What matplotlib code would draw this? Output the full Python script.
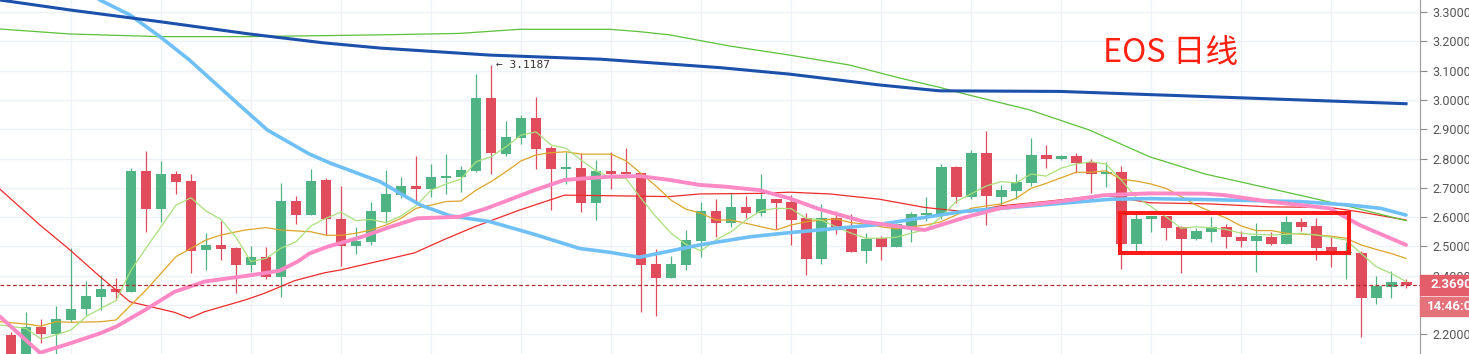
import matplotlib
matplotlib.use('Agg')
import matplotlib.pyplot as plt
import matplotlib.transforms as mtransforms
from matplotlib.patches import Rectangle
import numpy as np

# daily candles, EOS
opens = [2.198, 2.120, 2.225, 2.202, 2.249, 2.285, 2.328, 2.355, 2.345, 2.757,
         2.628, 2.747, 2.723, 2.489, 2.505, 2.495, 2.437, 2.464, 2.397, 2.655,
         2.608, 2.727, 2.594, 2.501, 2.515, 2.618, 2.675, 2.706, 2.697, 2.734,
         2.738, 2.757, 3.006, 2.816, 2.871, 2.938, 2.836, 2.765, 2.768, 2.649,
         2.756, 2.754, 2.749, 2.440, 2.393, 2.437, 2.519, 2.621, 2.581, 2.634,
         2.615, 2.662, 2.652, 2.596, 2.458, 2.596, 2.559, 2.485, 2.530, 2.498,
         2.566, 2.608, 2.612, 2.771, 2.670, 2.819, 2.670, 2.690, 2.717, 2.812,
         2.797, 2.809, 2.787, 2.748, 2.754, 2.509, 2.593, 2.604, 2.566, 2.526,
         2.550, 2.566, 2.532, 2.519, 2.532, 2.509, 2.583, 2.570, 2.498, 2.477,
         2.479, 2.325, 2.362, 2.378]
highs = [2.208, 2.276, 2.252, 2.297, 2.493, 2.382, 2.401, 2.391, 2.769, 2.826,
         2.791, 2.758, 2.746, 2.547, 2.588, 2.497, 2.501, 2.499, 2.716, 2.672,
         2.763, 2.734, 2.706, 2.567, 2.652, 2.761, 2.737, 2.809, 2.781, 2.816,
         2.774, 3.088, 3.1187, 2.929, 2.948, 3.010, 2.844, 2.823, 2.818, 2.795,
         2.823, 2.837, 2.750, 2.492, 2.467, 2.556, 2.650, 2.662, 2.681, 2.672,
         2.748, 2.662, 2.674, 2.615, 2.645, 2.621, 2.610, 2.547, 2.535, 2.581,
         2.617, 2.670, 2.781, 2.775, 2.829, 2.894, 2.709, 2.747, 2.871, 2.846,
         2.812, 2.818, 2.799, 2.789, 2.774, 2.621, 2.604, 2.604, 2.570, 2.564,
         2.601, 2.575, 2.553, 2.579, 2.550, 2.604, 2.596, 2.596, 2.533, 2.516,
         2.485, 2.399, 2.416, 2.388]
lows = [2.100, 2.100, 2.169, 2.120, 2.243, 2.266, 2.283, 2.317, 2.345, 2.550,
        2.584, 2.679, 2.410, 2.419, 2.453, 2.340, 2.414, 2.388, 2.328, 2.576,
        2.608, 2.538, 2.433, 2.474, 2.504, 2.581, 2.664, 2.647, 2.670, 2.680,
        2.686, 2.755, 2.747, 2.810, 2.851, 2.765, 2.624, 2.712, 2.618, 2.590,
        2.697, 2.747, 2.275, 2.264, 2.393, 2.419, 2.465, 2.533, 2.567, 2.596,
        2.605, 2.558, 2.504, 2.402, 2.439, 2.542, 2.482, 2.445, 2.454, 2.498,
        2.516, 2.588, 2.594, 2.647, 2.662, 2.573, 2.641, 2.662, 2.706, 2.769,
        2.795, 2.752, 2.683, 2.704, 2.424, 2.485, 2.550, 2.522, 2.408, 2.522,
        2.516, 2.493, 2.499, 2.414, 2.504, 2.509, 2.554, 2.454, 2.431, 2.389,
        2.192, 2.302, 2.325, 2.357]
closes = [2.120, 2.225, 2.202, 2.252, 2.286, 2.331, 2.355, 2.344, 2.757, 2.628,
          2.747, 2.721, 2.485, 2.504, 2.492, 2.437, 2.464, 2.397, 2.655, 2.608,
          2.723, 2.594, 2.501, 2.518, 2.621, 2.679, 2.706, 2.697, 2.737, 2.741,
          2.761, 3.006, 2.820, 2.873, 2.938, 2.833, 2.765, 2.772, 2.649, 2.756,
          2.748, 2.748, 2.437, 2.393, 2.440, 2.522, 2.621, 2.581, 2.634, 2.615,
          2.662, 2.649, 2.590, 2.458, 2.596, 2.556, 2.482, 2.527, 2.498, 2.576,
          2.611, 2.615, 2.771, 2.670, 2.819, 2.672, 2.692, 2.721, 2.812, 2.797,
          2.809, 2.786, 2.748, 2.754, 2.509, 2.594, 2.604, 2.564, 2.526, 2.553,
          2.566, 2.533, 2.519, 2.535, 2.509, 2.583, 2.566, 2.496, 2.481, 2.482,
          2.325, 2.365, 2.378, 2.369]

# moving averages (x = candle index)
ma5_x = [-0.73] + list(range(1, 94))
ma5 = [2.232, 2.220, 2.184, 2.198, 2.215, 2.260, 2.289, 2.315, 2.419, 2.494,
       2.567, 2.641, 2.666, 2.621, 2.592, 2.531, 2.448, 2.459, 2.494, 2.516,
       2.570, 2.596, 2.617, 2.588, 2.592, 2.581, 2.604, 2.639, 2.692, 2.713,
       2.730, 2.789, 2.806, 2.840, 2.880, 2.891, 2.846, 2.835, 2.795, 2.758,
       2.734, 2.732, 2.664, 2.601, 2.545, 2.507, 2.485, 2.522, 2.550, 2.590,
       2.622, 2.630, 2.629, 2.596, 2.590, 2.567, 2.545, 2.528, 2.528, 2.531,
       2.545, 2.558, 2.601, 2.653, 2.679, 2.706, 2.721, 2.717, 2.747, 2.740,
       2.767, 2.781, 2.789, 2.781, 2.727, 2.668, 2.636, 2.601, 2.562, 2.567,
       2.564, 2.558, 2.545, 2.541, 2.539, 2.541, 2.545, 2.539, 2.531, 2.522,
       2.476, 2.431, 2.408, 2.380]

ma10_x = [-0.73, 1, 2, 3, 4, 6, 7, 9, 11, 13, 14, 15.6, 17, 18, 20] + list(range(21, 94))
ma10 = [2.243, 2.235, 2.228, 2.243, 2.241, 2.243, 2.249, 2.351, 2.465, 2.522,
        2.539, 2.556, 2.564, 2.556, 2.550,
        2.538, 2.538, 2.545, 2.556, 2.573, 2.596, 2.630, 2.641, 2.653, 2.655,
        2.692, 2.721, 2.755, 2.792, 2.812, 2.820, 2.823, 2.815, 2.815, 2.815,
        2.792, 2.749, 2.706, 2.658, 2.627, 2.613, 2.590, 2.590, 2.579, 2.567,
        2.556, 2.573, 2.584, 2.590, 2.594, 2.581, 2.576, 2.567, 2.560, 2.567,
        2.573, 2.584, 2.607, 2.630, 2.638, 2.645, 2.664, 2.698, 2.715, 2.734,
        2.753, 2.753, 2.758, 2.729, 2.723, 2.713, 2.698, 2.670, 2.641, 2.618,
        2.597, 2.570, 2.554, 2.554, 2.545, 2.542, 2.539, 2.535, 2.528, 2.505,
        2.490, 2.476, 2.459]

ma_red_x = [-0.73, 1.93, 3.93, 5.93, 7.93, 10.9, 11.9, 12.9, 15.6, 16.9, 18.9,
            20.9, 21.9, 24.9, 26.9, 28.9, 30.9, 33.9, 36.9, 39.9, 43.9, 45.9,
            49.9, 51.9, 54.6, 57.9, 60.9, 63.9, 65.9, 68.9, 71.9, 72.9, 75.9,
            79.9, 83.9, 87.9, 89.9, 93]
ma_red = [2.695, 2.573, 2.488, 2.397, 2.311, 2.275, 2.255, 2.277, 2.317, 2.340,
          2.383, 2.410, 2.419, 2.454, 2.478, 2.524, 2.567, 2.624, 2.675, 2.673,
          2.670, 2.679, 2.681, 2.685, 2.679, 2.661, 2.633, 2.617, 2.638, 2.653,
          2.670, 2.675, 2.649, 2.645, 2.635, 2.633, 2.618, 2.590]

ma_pink_x = [-0.73, 1.93, 3.93, 5.93, 7.0, 8.93, 10.9, 12.9, 15.9, 17.9, 19.1,
             19.9, 21.1, 23.3, 25.3, 27.1, 29.9, 31.6, 32.9, 34.9, 36.9, 39.9,
             41.9, 43.9, 45.9, 47.6, 49.9, 51.9, 53.9, 56.9, 60.9, 63.6, 65.9,
             69.9, 72.9, 75.9, 79.6, 80.9, 83.9, 87.9, 89.9, 93]
ma_pink = [2.260, 2.137, 2.169, 2.203, 2.226, 2.283, 2.345, 2.380, 2.401, 2.417,
           2.448, 2.476, 2.499, 2.531, 2.567, 2.596, 2.601, 2.628, 2.653, 2.692,
           2.727, 2.738, 2.740, 2.727, 2.710, 2.704, 2.692, 2.664, 2.627, 2.584,
           2.556, 2.599, 2.630, 2.653, 2.675, 2.681, 2.680, 2.675, 2.653, 2.630,
           2.573, 2.505]

ma_lblue_x = [5.0, 5.93, 7.93, 9.93, 11.9, 15.3, 17.1, 19.9, 21.3, 24.6, 27.3,
              29.3, 31.9, 34.9, 37.9, 39.9, 41.9, 45.9, 49.3, 51.9, 57.9, 61.9,
              63.6, 68.6, 73.3, 75.9, 79.6, 85.9, 89.3, 91.3, 93]
ma_lblue = [3.370, 3.341, 3.290, 3.216, 3.136, 2.979, 2.897, 2.815, 2.784, 2.721,
            2.641, 2.604, 2.585, 2.541, 2.493, 2.480, 2.463, 2.505, 2.533, 2.547,
            2.575, 2.607, 2.620, 2.641, 2.661, 2.663, 2.660, 2.653, 2.641, 2.630,
            2.607]

ma_green_x = [-0.73, 3.93, 9.93, 15.9, 24.6, 29.9, 33.9, 39.9, 41.9, 43.9, 47.9,
              51.9, 55.9, 59.3, 61.9, 63.6, 67.9, 71.9, 75.9, 79.6, 81.9, 85.9,
              89.3, 93]
ma_green = [3.242, 3.225, 3.216, 3.216, 3.222, 3.227, 3.241, 3.241, 3.233, 3.222,
            3.184, 3.153, 3.119, 3.074, 3.043, 3.020, 2.966, 2.897, 2.806, 2.747,
            2.721, 2.675, 2.635, 2.588]

ma_dblue_x = [-0.73, 3.93, 9.93, 15.9, 20.8, 24.6, 31.9, 39.3, 47.3, 51.9, 57.9,
              61.9, 69.9, 79.3, 85.9, 93]
ma_dblue = [3.341, 3.307, 3.267, 3.225, 3.195, 3.177, 3.153, 3.139, 3.110, 3.088,
            3.051, 3.031, 3.029, 3.012, 3.000, 2.987]

last_price = 2.369
last_time = '14:46:01'
high_mark = 3.1187
box_x = [73.93, 89.2]
box_y = [2.476, 2.613]
yticks = [2.2, 2.3, 2.4, 2.5, 2.6, 2.7, 2.8, 2.9, 3.0, 3.1, 3.2, 3.3]

plt.rcParams['font.family'] = ['Noto Sans CJK SC', 'DejaVu Sans']

fig = plt.figure(figsize=(14.69, 3.54), dpi=100)
ax = fig.add_axes([0, 0, 1420 / 1469, 1])

o = np.array(opens)
c = np.array(closes)
idx = np.arange(len(o))
up = c >= o
col = np.where(up, '#50b383', '#e14c5c')
body = np.maximum(np.abs(c - o), 0.004)
bottom = np.minimum(o, c)

ax.vlines(idx, lows, highs, colors=col, lw=0.9, zorder=3)
ax.bar(idx, body, bottom=bottom, width=0.73, color=col, linewidth=0, zorder=3)

ax.plot(ma_red_x, ma_red, color='#ee2b2b', lw=0.9, zorder=4)
ax.plot(ma_green_x, ma_green, color='#5cc13a', lw=0.9, zorder=4)
ax.plot(ma10_x, ma10, color='#dca52a', lw=0.9, zorder=4)
ax.plot(ma5_x, ma5, color='#a9e07d', lw=0.9, zorder=4)
ax.plot(ma_lblue_x, ma_lblue, color='#6fc0f7', lw=2.6, zorder=5, solid_capstyle='round')
ax.plot(ma_pink_x, ma_pink, color='#ff89c5', lw=2.8, zorder=5, solid_capstyle='round')
ax.plot(ma_dblue_x, ma_dblue, color='#1b50ab', lw=2.2, zorder=5)

ax.axhline(last_price, color='#b02a30', lw=0.9, ls=(0, (3, 2)), zorder=6)

ax.add_patch(Rectangle((box_x[0], box_y[0]), box_x[1] - box_x[0], box_y[1] - box_y[0],
                       fill=False, edgecolor='#ff1a1a', lw=2.9, zorder=7))
ax.text(72.8, 3.129, 'EOS 日线', color='#ff2010', fontsize=23.5, ha='left',
        va='baseline', zorder=7)
ax.text(32.3, high_mark, '← %.4f' % high_mark, family='DejaVu Sans Mono', fontsize=8,
        color='#333333', ha='left', va='center', zorder=7)

ax.set_xlim(-0.733, 93.93)
ax.set_ylim(2.1328, 3.341)
ax.set_xticks(np.arange(4, 94, 6))
ax.set_xticklabels([])
ax.set_yticks(yticks)
# 2.3000 sits under the price boxes
ax.set_yticklabels(['' if abs(v - 2.3) < 1e-9 else '%.4f' % v for v in yticks])
ax.yaxis.tick_right()
ax.tick_params(axis='x', length=0)
ax.tick_params(axis='y', direction='out', length=5, color='#8a8a8a',
               labelcolor='#555555', labelsize=9, pad=4)
for lab in ax.get_yticklabels():
    lab.set_family('Roboto')
ax.grid(True, color='#eef2f6', lw=1)
ax.set_axisbelow(True)
for s in ['top', 'left', 'bottom']:
    ax.spines[s].set_visible(False)
ax.spines['right'].set_color('#9a9a9a')

# price labels on the right scale
tr = mtransforms.blended_transform_factory(ax.transAxes, ax.transData)
ax.add_patch(Rectangle((1.0, last_price - 0.034), 0.04, 0.068, transform=tr,
                       clip_on=False, color='#e35e6a', zorder=10))
ax.add_patch(Rectangle((1.0, last_price - 0.108), 0.04, 0.067, transform=tr,
                       clip_on=False, color='#e5717a', zorder=10))
ax.text(1.0075, last_price, '%.4f' % last_price, transform=tr, color='white',
        fontsize=9.5, fontweight='bold', family='Roboto', ha='left', va='center',
        clip_on=False, zorder=11)
ax.text(1.005, last_price - 0.075, last_time, transform=tr, color='white',
        fontsize=9.5, fontweight='bold', family='Roboto', ha='left',
        va='center', clip_on=False, zorder=11)

fig.savefig('out.png', dpi=100, facecolor='white')
